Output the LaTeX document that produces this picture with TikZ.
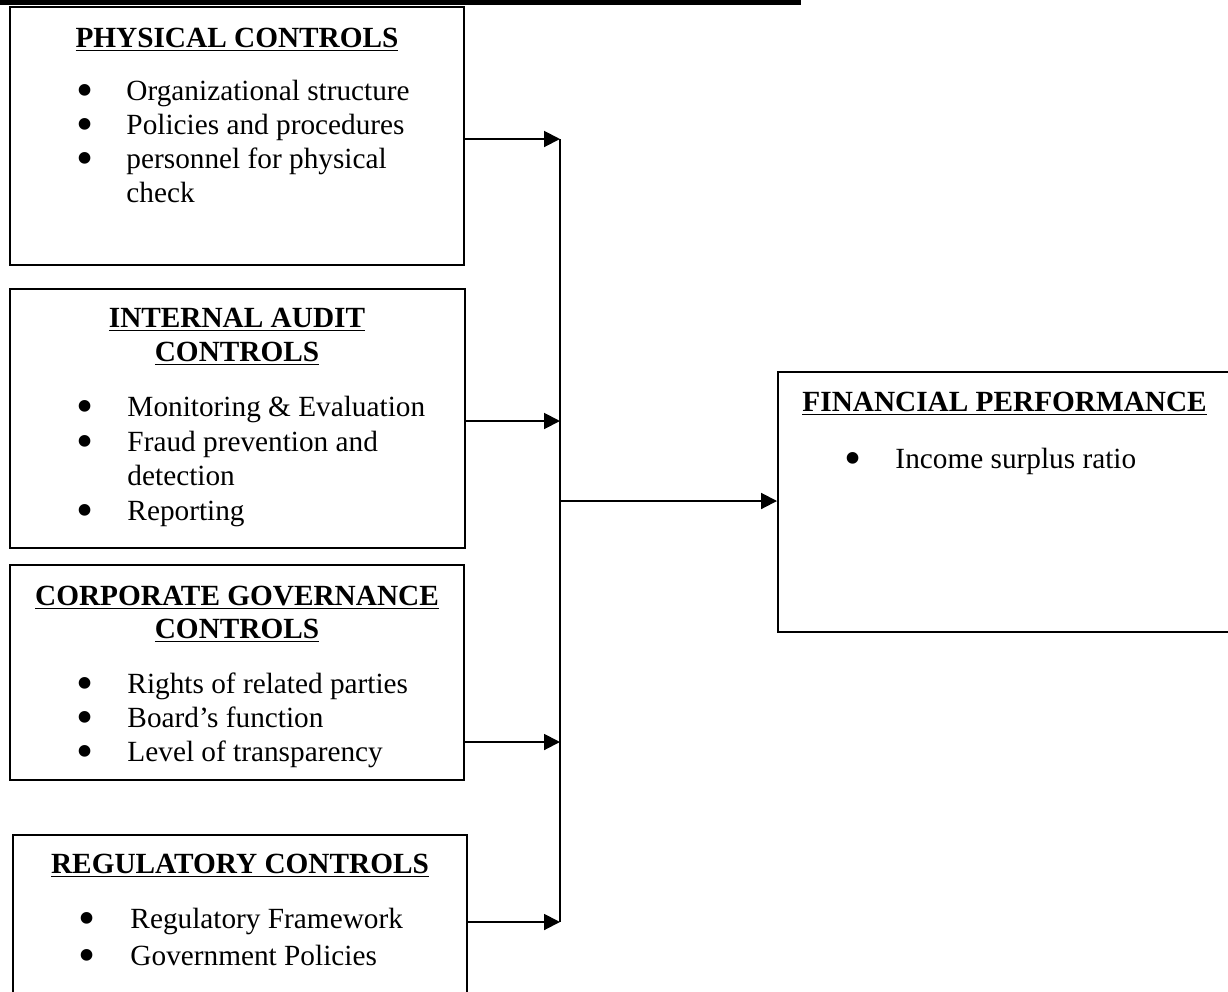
\documentclass[tikz,border=0pt]{standalone}
\usepackage{fontspec}
\setmainfont{Liberation Serif}
\usetikzlibrary{arrows.meta,fit}
\tikzset{
  box/.style={draw, line width=0.8pt, inner sep=0pt},
  ttl/.style={font=\fontsize{12}{13.8}\selectfont\bfseries, anchor=base, inner sep=0pt},
  itm/.style={font=\fontsize{12}{13.8}\selectfont, anchor=base west, inner sep=0pt},
  bul/.style={font=\fontsize{20}{22}\selectfont, anchor=base, inner sep=0pt, yshift=-2.5pt},
  arr/.style={line width=0.8pt, -{Triangle[length=6.5pt,width=6.5pt]}},
  ln/.style={line width=0.8pt}
}
\begin{document}
\begin{tikzpicture}[x=0.4098pt,y=-0.4098pt]
\useasboundingbox (0,0) rectangle (1228,991);
\clip (0,0) rectangle (1228,991);
\fill (0,0) rectangle (801,5);

% boxes
\node[box, fit={(10,7) (464,265)}] (pc) {};
\node[box, fit={(10,289) (465,548)}] (ia) {};
\node[box, fit={(10,565) (464,780)}] (cg) {};
\node[box, fit={(13,835) (467,1010)}] (rc) {};
\node[box, fit={(778,372) (1250,632)}] (fp) {};

% physical controls
\node[ttl] (pct) at (237,47) {\underline{PHYSICAL CONTROLS}};
\node[bul] (pcb1) at (85,100) {\textbullet};
\node[itm] (pci1) at (126,100) {Organizational structure};
\node[bul] (pcb2) at (85,134) {\textbullet};
\node[itm] (pci2) at (126,134) {Policies and procedures};
\node[bul] (pcb3) at (85,168) {\textbullet};
\node[itm] (pci3) at (126,168) {personnel for physical};
\node[itm] (pci4) at (126,202) {check};

% internal audit
\node[ttl] (iat1) at (237,327) {\underline{INTERNAL AUDIT}};
\node[ttl] (iat2) at (237,361) {\underline{CONTROLS}};
\node[bul] (iab1) at (85,416) {\textbullet};
\node[itm] (iai1) at (127,416) {Monitoring \& Evaluation};
\node[bul] (iab2) at (85,451) {\textbullet};
\node[itm] (iai2) at (127,451) {Fraud prevention and};
\node[itm] (iai3) at (127,485) {detection};
\node[bul] (iab4) at (85,520) {\textbullet};
\node[itm] (iai4) at (127,520) {Reporting};

% corporate governance
\node[ttl] (cgt1) at (237,605) {\underline{CORPORATE GOVERNANCE}};
\node[ttl] (cgt2) at (237,638) {\underline{CONTROLS}};
\node[bul] (cgb1) at (85,693) {\textbullet};
\node[itm] (cgi1) at (127,693) {Rights of related parties};
\node[bul] (cgb2) at (85,727) {\textbullet};
\node[itm] (cgi2) at (127,727) {Board’s function};
\node[bul] (cgb3) at (85,761) {\textbullet};
\node[itm] (cgi3) at (127,761) {Level of transparency};

% regulatory
\node[ttl] (rct) at (240,873) {\underline{REGULATORY CONTROLS}};
\node[bul] (rcb1) at (87,928) {\textbullet};
\node[itm] (rci1) at (130,928) {Regulatory Framework};
\node[bul] (rcb2) at (87,965) {\textbullet};
\node[itm] (rci2) at (130,965) {Government Policies};

% financial performance
\node[ttl, anchor=base west] (fpt) at (802,411) {\underline{FINANCIAL PERFORMANCE}};
\node[bul] (fpb1) at (853,468) {\textbullet};
\node[itm] (fpi1) at (895,468) {Income surplus ratio};

% connectors
\coordinate (j1) at (560,139);
\coordinate (j2) at (560,421);
\coordinate (j3) at (560,742);
\coordinate (j4) at (560,922);
\coordinate (jm) at (560,501);
\draw[ln] (j1) -- (j4);
\draw[arr] (pc.east |- j1) -- (j1);
\draw[arr] (ia.east |- j2) -- (j2);
\draw[arr] (cg.east |- j3) -- (j3);
\draw[arr] (rc.east |- j4) -- (j4);
\draw[arr] (jm) -- (fp.west |- jm);
\end{tikzpicture}
\end{document}
